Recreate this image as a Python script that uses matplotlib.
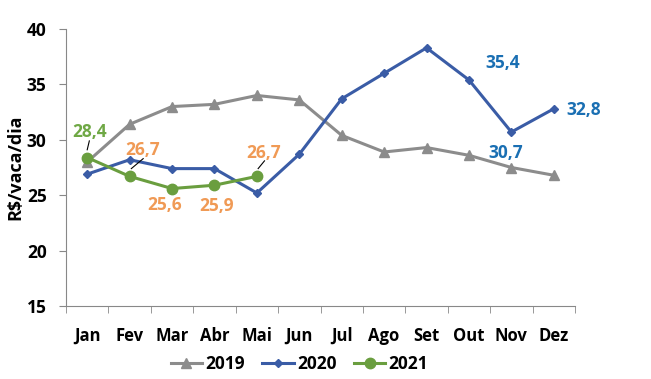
import numpy as np
import matplotlib.pyplot as plt

plt.rcParams['font.family'] = ['Open Sans', 'DejaVu Sans']
plt.rcParams['font.weight'] = 'bold'

meses = ['Jan', 'Fev', 'Mar', 'Abr', 'Mai', 'Jun', 'Jul', 'Ago', 'Set', 'Out', 'Nov', 'Dez']
v2019 = [28.0, 31.4, 33.0, 33.2, 34.0, 33.6, 30.4, 28.9, 29.3, 28.6, 27.5, 26.8]
v2020 = [26.9, 28.2, 27.4, 27.4, 25.2, 28.7, 33.7, 36.0, 38.3, 35.4, 30.7, 32.8]
v2021 = [28.4, 26.7, 25.6, 25.9, 26.7]

c19 = '#8c8c8c'
c20 = '#3a5ca6'
c21 = '#6a9e3f'
c_lab21 = '#6fa845'
c_orange = '#f09a55'
c_blue = '#1a6fb3'

x = np.arange(len(meses))

fig = plt.figure(figsize=(6.51, 3.79), dpi=100)
ax = fig.add_axes([66/651, 1-306/379, 509/651, 277/379])

ax.plot(x, v2019, color=c19, lw=2.2, marker='^', ms=6.5, label='2019', zorder=2)
ax.plot(x, v2020, color=c20, lw=2.2, marker='D', ms=4.5, label='2020', zorder=3)
ax.plot(x[:len(v2021)], v2021, color=c21, lw=2.2, marker='o', ms=7.5, label='2021', zorder=4)

# rotulos
fs = 12.5
ax.text(0.05, 30.7, '28,4', color=c_lab21, fontsize=fs, ha='center', va='center', fontweight='bold')
ax.text(1.31, 29.1, '26,7', color=c_orange, fontsize=fs, ha='center', va='center', fontweight='bold')
ax.text(1.82, 24.1, '25,6', color=c_orange, fontsize=fs, ha='center', va='center', fontweight='bold')
ax.text(3.04, 24.0, '25,9', color=c_orange, fontsize=fs, ha='center', va='center', fontweight='bold')
ax.text(4.17, 28.8, '26,7', color=c_orange, fontsize=fs, ha='center', va='center', fontweight='bold')
ax.text(9.8, 36.9, '35,4', color=c_blue, fontsize=fs, ha='center', va='center', fontweight='bold')
ax.text(9.87, 28.8, '30,7', color=c_blue, fontsize=fs, ha='center', va='center', fontweight='bold')
ax.text(11.71, 32.7, '32,8', color=c_blue, fontsize=fs, ha='center', va='center', fontweight='bold')

# linhas de chamada
ax.plot([0.05, 0.0], [29.9, 29.1], color='black', lw=0.8, zorder=5)
ax.plot([1.32, 1.04], [28.3, 27.4], color='black', lw=0.8, zorder=5)
ax.plot([4.18, 4.03], [28.1, 27.4], color='black', lw=0.8, zorder=5)

ax.set_xlim(-0.5, 11.5)
ax.set_ylim(15, 40)
ax.set_yticks([15, 20, 25, 30, 35, 40])
ax.set_xticks(x)
ax.set_xticklabels(meses)
ax.set_xticks(np.arange(-0.5, 12, 1), minor=True)
ax.tick_params(axis='x', which='major', length=0, pad=15, labelsize=12)
ax.tick_params(axis='x', which='minor', length=5, color='#888888', direction='out')
ax.tick_params(axis='y', length=5, color='#888888', labelsize=12.5, pad=9)
for t in ax.get_xticklabels() + ax.get_yticklabels():
    t.set_fontweight('bold')

for s in ['top', 'right']:
    ax.spines[s].set_visible(False)
ax.spines['left'].set_color('#888888')
ax.spines['bottom'].set_color('#888888')

ax.set_ylabel('R$/vaca/dia', fontsize=13, fontweight='bold', labelpad=2)

fig.legend(loc='center', bbox_to_anchor=(0.46, 0.04), ncol=3, frameon=False,
           prop={'weight': 'bold', 'size': 12.5}, handlelength=1.8, columnspacing=1.0, handletextpad=0.2)

fig.savefig('out.png', dpi=100)
